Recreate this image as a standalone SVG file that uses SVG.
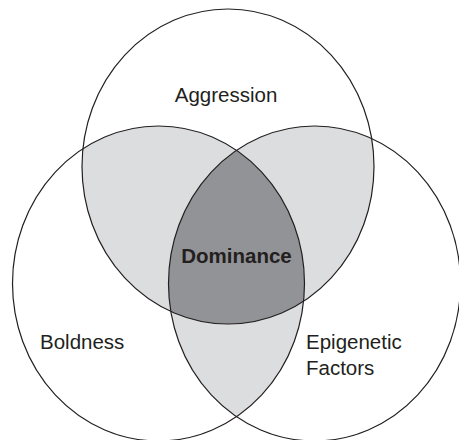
<svg xmlns="http://www.w3.org/2000/svg" width="459" height="440" viewBox="0 0 459 440">
<style>
.ring{fill:none;stroke:#231f20;stroke-width:1.2}
.lt{fill:#dcdddf}
.dk{fill:#929396}
.lbl{font-family:"Liberation Sans",Arial,sans-serif;font-size:20.5px;fill:#231f20}
.bold{font-weight:bold}
</style>
<defs>
<clipPath id="cTop"><ellipse cx="228" cy="166.5" rx="146" ry="157.5"/></clipPath>
<clipPath id="cLeft"><ellipse cx="158.5" cy="283.5" rx="146" ry="157.5"/></clipPath>
<clipPath id="cRight"><ellipse cx="314.5" cy="283.5" rx="146" ry="157.5"/></clipPath>
</defs>
<rect width="459" height="440" fill="#ffffff"/>
<g id="overlaps">
<ellipse class="lt" cx="228" cy="166.5" rx="146" ry="157.5" clip-path="url(#cLeft)"/>
<ellipse class="lt" cx="228" cy="166.5" rx="146" ry="157.5" clip-path="url(#cRight)"/>
<ellipse class="lt" cx="158.5" cy="283.5" rx="146" ry="157.5" clip-path="url(#cRight)"/>
<g clip-path="url(#cTop)"><ellipse class="dk" cx="158.5" cy="283.5" rx="146" ry="157.5" clip-path="url(#cRight)"/></g>
</g>
<g id="aggression">
<ellipse class="ring" cx="228" cy="166.5" rx="146" ry="157.5"/>
<text class="lbl" x="226" y="101.5" text-anchor="middle">Aggression</text>
</g>
<g id="boldness">
<ellipse class="ring" cx="158.5" cy="283.5" rx="146" ry="157.5"/>
<text class="lbl" x="40" y="349">Boldness</text>
</g>
<g id="epigenetic">
<ellipse class="ring" cx="314.5" cy="283.5" rx="146" ry="157.5"/>
<text class="lbl" x="306" y="349">Epigenetic</text>
<text class="lbl" x="306" y="375">Factors</text>
</g>
<g id="dominance">
<text class="lbl bold" x="236.5" y="263" text-anchor="middle">Dominance</text>
</g>
</svg>
